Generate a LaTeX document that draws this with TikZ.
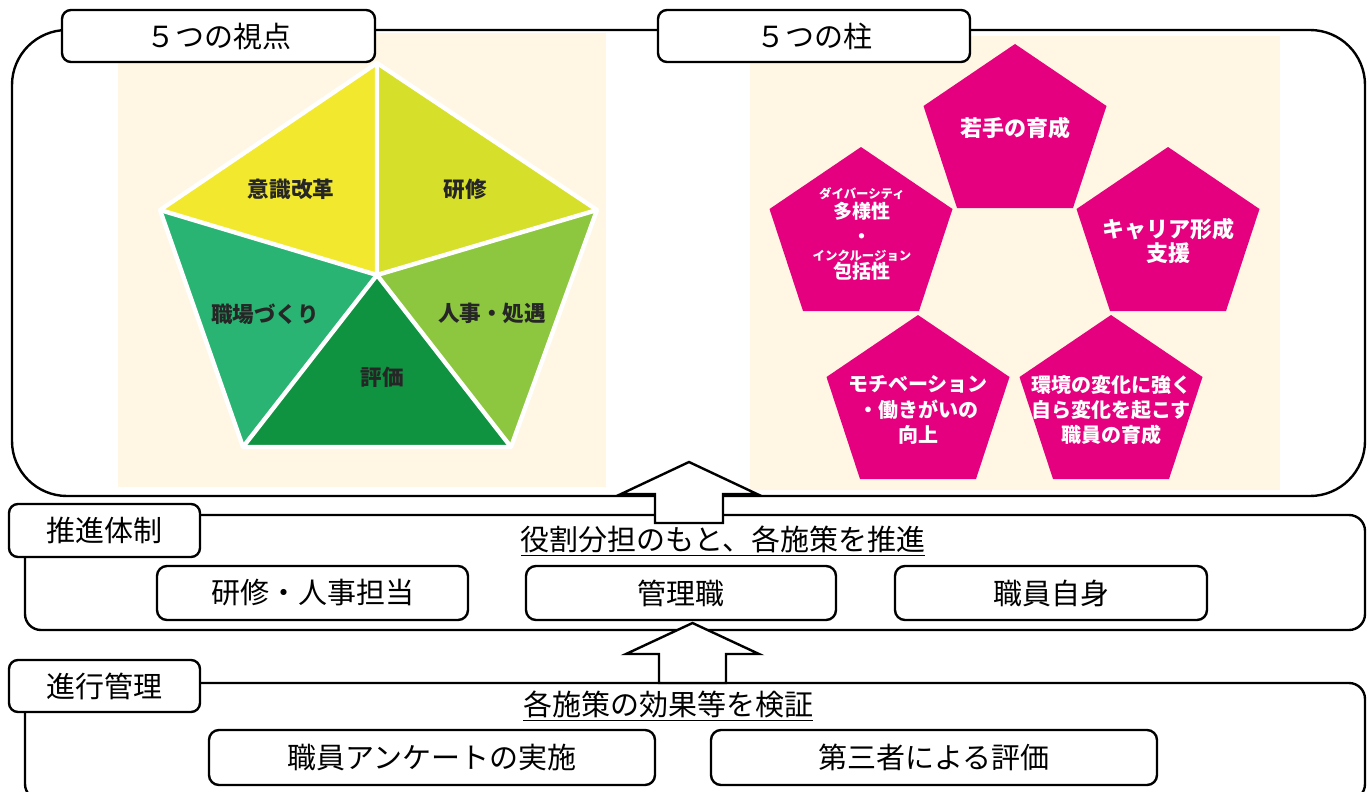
\documentclass[tikz,border=0pt]{standalone}
\usepackage{fontspec}
\newfontfamily\jp{Noto Sans CJK JP}
\definecolor{beige}{HTML}{FFF7E4}
\definecolor{cA}{HTML}{F2E92F}
\definecolor{cB}{HTML}{D6E02A}
\definecolor{cC}{HTML}{8DC63F}
\definecolor{cD}{HTML}{0F9341}
\definecolor{cE}{HTML}{29B473}
\definecolor{mag}{HTML}{E4007F}
\definecolor{ink}{HTML}{262626}
\newcommand\mypent[2]{\fill[mag] (#1,#2) -- ++(91.5,62) -- ++(-33.5,102) -- ++(-116,0) -- ++(-33.5,-102) -- cycle;}
\begin{document}
\begin{tikzpicture}[x=0.5pt,y=-0.5pt,line width=1.2pt,
  lbl/.style={draw,fill=white,rounded corners=4.5pt,inner sep=0pt,font=\jp\fontsize{14.5pt}{17pt}\selectfont},
  ibox/.style={draw,fill=white,rounded corners=5pt,inner sep=0pt,font=\jp\fontsize{14.5pt}{17pt}\selectfont},
  head/.style={inner sep=0pt,font=\jp\fontsize{14.5pt}{17pt}\selectfont},
  gtxt/.style={inner sep=0pt,text=ink,font=\jp\bfseries\fontsize{10.8pt}{12pt}\selectfont},
  ptxt/.style={inner sep=0pt,text=white,align=center,font=\jp\bfseries\fontsize{10pt}{12.7pt}\selectfont},
  pbig/.style={ptxt,font=\jp\bfseries\fontsize{11pt}{12pt}\selectfont},
  pmid/.style={ptxt,font=\jp\bfseries\fontsize{9.5pt}{11pt}\selectfont},
  ruby/.style={ptxt,font=\jp\bfseries\fontsize{6.2pt}{7pt}\selectfont},
  blockarrow/.style={draw,fill=white,line join=miter}]
\useasboundingbox (0,0) rectangle (1370,792);
\clip (0,0) rectangle (1370,792);

% top frame
\draw[rounded corners=27.5pt] (12,30) rectangle (1365,496);
\fill[beige] (118,33) rectangle (606,487);
\fill[beige] (750,36) rectangle (1280,490);

% five viewpoints pentagon
\coordinate (T) at (377,63);
\coordinate (UR) at (597,210);
\coordinate (LR) at (511,447);
\coordinate (LL) at (243,447);
\coordinate (UL) at (160,210);
\coordinate (C) at (377,275);
\fill[cA] (C)--(UL)--(T)--cycle;
\fill[cB] (C)--(T)--(UR)--cycle;
\fill[cC] (C)--(UR)--(LR)--cycle;
\fill[cD] (C)--(LR)--(LL)--cycle;
\fill[cE] (C)--(LL)--(UL)--cycle;
\draw[white,line width=2.2pt,line join=round] (T)--(UR)--(LR)--(LL)--(UL)--cycle;
\draw[white,line width=2.2pt] (C)--(T) (C)--(UR) (C)--(LR) (C)--(LL) (C)--(UL);
\node[gtxt] (v1) at (291,189) {意識改革};
\node[gtxt] (v2) at (465,189) {研修};
\node[gtxt] (v3) at (265,314) {職場づくり};
\node[gtxt] (v4) at (492,313) {人事・処遇};
\node[gtxt] (v5) at (382,377) {評価};

% five pillars
\mypent{1015}{44}
\mypent{861}{147}
\mypent{1168}{147}
\mypent{918}{315}
\mypent{1111}{315}
\node[pbig] (p1) at (1015,128) {若手の育成};
\node[ruby] (p2r1) at (862,194) {ダイバーシティ};
\node[pmid] (p2a) at (862,211) {多様性};
\node[pmid] (p2b) at (862,239) {・};
\node[ruby] (p2r2) at (862,256) {インクルージョン};
\node[pmid] (p2c) at (862,271) {包括性};
\node[pbig] (p3) at (1168,241) {キャリア形成\\支援};
\node[ptxt] (p4) at (918,410) {モチベーション\\・働きがいの\\向上};
\node[ptxt] (p5) at (1111,410) {環境の変化に強く\\自ら変化を起こす\\職員の育成};

\node[lbl,minimum width=156.5pt,minimum height=26pt] (l1) at (218.5,36) {５つの視点};
\node[lbl,minimum width=156pt,minimum height=26pt] (l2) at (814,36) {５つの柱};

% sections
\draw[rounded corners=8pt] (25,515) rectangle (1365,630);
\draw[rounded corners=8pt] (25,683) rectangle (1365,800);

% block arrows
\draw[blockarrow] (689,462) -- (757,494) -- (723,494) -- (723,523) -- (655,523) -- (655,494) -- (621,494) -- cycle;
\draw[blockarrow] (692.5,623) -- (759,654) -- (726,654) -- (726,683) -- (659,683) -- (659,654) -- (626,654) -- cycle;

\node[lbl,minimum width=95.5pt,minimum height=26.5pt] (l3) at (104.5,530.5) {推進体制};
\node[lbl,minimum width=95.5pt,minimum height=26pt] (l4) at (104.5,686) {進行管理};

\node[head] (h1) at (723,541) {\underline{役割分担のもと、各施策を推進}};
\node[head] (h2) at (668,706) {\underline{各施策の効果等を検証}};

\node[ibox,minimum width=155.5pt,minimum height=27pt] (b1) at (312.5,593) {研修・人事担当};
\node[ibox,minimum width=155pt,minimum height=27pt] (b2) at (681,593) {管理職};
\node[ibox,minimum width=156pt,minimum height=27pt] (b3) at (1051,593) {職員自身};
\node[ibox,minimum width=223pt,minimum height=27.5pt] (b4) at (432,757.5) {職員アンケートの実施};
\node[ibox,minimum width=223pt,minimum height=27.5pt] (b5) at (934,757.5) {第三者による評価};
\end{tikzpicture}
\end{document}
